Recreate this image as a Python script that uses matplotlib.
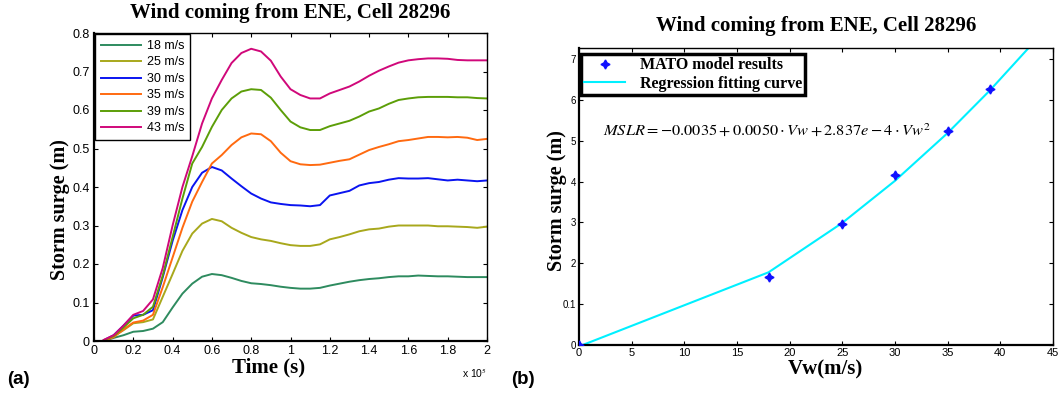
import matplotlib
matplotlib.use("Agg")
import matplotlib.pyplot as plt
import numpy as np

# ---------------- data: panel (a) ----------------
time_x1e5 = [0.05, 0.10, 0.15, 0.20, 0.25, 0.30, 0.35, 0.40, 0.45, 0.50,
             0.55, 0.60, 0.65, 0.70, 0.75, 0.80, 0.85, 0.90, 0.95, 1.00,
             1.05, 1.10, 1.15, 1.20, 1.25, 1.30, 1.35, 1.40, 1.45, 1.50,
             1.55, 1.60, 1.65, 1.70, 1.75, 1.80, 1.85, 1.90, 1.95, 2.00]

surge_18 = [0.000, 0.008, 0.015, 0.024, 0.026, 0.032, 0.049, 0.087, 0.123, 0.149,
            0.167, 0.174, 0.171, 0.164, 0.156, 0.150, 0.148, 0.145, 0.141, 0.138,
            0.136, 0.136, 0.138, 0.144, 0.149, 0.154, 0.158, 0.161, 0.163, 0.166,
            0.168, 0.168, 0.170, 0.169, 0.168, 0.168, 0.167, 0.166, 0.166, 0.166]
surge_25 = [0.000, 0.012, 0.028, 0.046, 0.049, 0.056, 0.115, 0.174, 0.234, 0.279,
            0.305, 0.317, 0.311, 0.294, 0.281, 0.270, 0.264, 0.260, 0.254, 0.249,
            0.247, 0.247, 0.251, 0.264, 0.270, 0.277, 0.285, 0.290, 0.292, 0.297,
            0.300, 0.300, 0.300, 0.300, 0.298, 0.298, 0.297, 0.296, 0.294, 0.297]
surge_30 = [0.002, 0.015, 0.040, 0.066, 0.068, 0.080, 0.166, 0.260, 0.340, 0.400,
            0.437, 0.452, 0.443, 0.422, 0.402, 0.383, 0.370, 0.360, 0.356, 0.353,
            0.352, 0.350, 0.353, 0.378, 0.384, 0.390, 0.404, 0.410, 0.413, 0.419,
            0.423, 0.422, 0.422, 0.423, 0.420, 0.417, 0.419, 0.417, 0.415, 0.417]
surge_35 = [0.000, 0.010, 0.030, 0.048, 0.053, 0.068, 0.140, 0.217, 0.294, 0.362,
            0.413, 0.461, 0.483, 0.509, 0.529, 0.539, 0.537, 0.519, 0.489, 0.467,
            0.459, 0.457, 0.458, 0.463, 0.468, 0.472, 0.484, 0.496, 0.504, 0.511,
            0.519, 0.522, 0.526, 0.530, 0.530, 0.529, 0.530, 0.528, 0.522, 0.525]
surge_39 = [0.002, 0.013, 0.035, 0.059, 0.068, 0.089, 0.170, 0.270, 0.370, 0.461,
            0.504, 0.556, 0.600, 0.630, 0.648, 0.654, 0.652, 0.632, 0.600, 0.570,
            0.555, 0.548, 0.548, 0.558, 0.565, 0.572, 0.583, 0.596, 0.604, 0.616,
            0.626, 0.630, 0.633, 0.634, 0.634, 0.634, 0.633, 0.633, 0.631, 0.630]
surge_43 = [0.003, 0.015, 0.040, 0.068, 0.078, 0.108, 0.190, 0.300, 0.400, 0.480,
            0.565, 0.630, 0.678, 0.722, 0.748, 0.759, 0.752, 0.728, 0.687, 0.654,
            0.639, 0.630, 0.630, 0.643, 0.652, 0.661, 0.674, 0.689, 0.702, 0.713,
            0.723, 0.729, 0.732, 0.734, 0.734, 0.733, 0.730, 0.729, 0.729, 0.729]

series_labels = ["18 m/s", "25 m/s", "30 m/s", "35 m/s", "39 m/s", "43 m/s"]
series_colors = ["#2e8b5f", "#a8a81c", "#0a14f0", "#ff6a10", "#5c9e08", "#d0087a"]

xticks_a = [0, 0.2, 0.4, 0.6, 0.8, 1.0, 1.2, 1.4, 1.6, 1.8, 2.0]
xticklabels_a = ["0", "0.2", "0.4", "0.6", "0.8", "1", "1.2", "1.4", "1.6", "1.8", "2"]
yticks_a = [0, 0.1, 0.2, 0.3, 0.4, 0.5, 0.6, 0.7, 0.8]
yticklabels_a = ["0", "0.1", "0.2", "0.3", "0.4", "0.5", "0.6", "0.7", "0.8"]

# ---------------- data: panel (b) ----------------
wind_speed = [0, 18, 25, 30, 35, 39]
model_surge = [0.000, 0.166, 0.297, 0.415, 0.523, 0.627]
fit_speed = [0, 18, 25, 30, 35, 39, 43, 45]
fit_surge = [-0.0035, 0.178, 0.299, 0.402, 0.519, 0.623, 0.736, 0.796]

xticks_b = [0, 5, 10, 15, 20, 25, 30, 35, 40, 45]
yticks_b = [0, 0.1, 0.2, 0.3, 0.4, 0.5, 0.6, 0.7]
yticklabels_b = ["0", "0.1", "2", "3", "4", "5", "6", "7"]

# ---------------- figure ----------------
plt.rcParams["mathtext.fontset"] = "stix"
W, H = 1058, 394
fig = plt.figure(figsize=(W / 100, H / 100), dpi=100)

serif = "Liberation Serif"
sans = "Liberation Sans"

def px_axes(x0, y0, x1, y1):
    return fig.add_axes([x0 / W, 1 - y1 / H, (x1 - x0) / W, (y1 - y0) / H])

# ---- panel (a)
ax1 = px_axes(94, 33, 487, 341)
all_series = [surge_18, surge_25, surge_30, surge_35, surge_39, surge_43]
for s, lab, col in zip(all_series, series_labels, series_colors):
    ax1.plot(time_x1e5, s, color=col, lw=1.4, label=lab)
ax1.set_xlim(0, 2)
ax1.set_ylim(0, 0.8)
ax1.set_xticks(xticks_a)
ax1.set_xticklabels(xticklabels_a, family=sans, fontsize=9)
ax1.set_yticks(yticks_a)
ax1.set_yticklabels(yticklabels_a, family=sans, fontsize=9)
ax1.tick_params(direction="in", top=True, right=True, length=3, width=0.8, pad=3)
for sp in ax1.spines.values():
    sp.set_linewidth(1.0)
ax1.spines["left"].set_linewidth(1.6)
ax1.spines["bottom"].set_linewidth(1.6)
ax1.set_title("Wind coming from ENE, Cell 28296", family=serif, weight="bold",
              fontsize=15, pad=11)
ax1.set_xlabel("Time (s)", family=serif, weight="bold", fontsize=15)
ax1.xaxis.set_label_coords((269 - 94) / 393, -(357 - 341) / 308)
ax1.set_ylabel("Storm surge (m)", family=serif, weight="bold", fontsize=14.5)
ax1.yaxis.set_label_coords(-(94 - 70) / 393, (341 - 210) / 308)
leg1 = ax1.legend(loc="upper left", bbox_to_anchor=(0.0, 1.0), borderaxespad=0.1,
                  prop={"family": sans, "size": 9}, fancybox=False, framealpha=1,
                  edgecolor="black", handlelength=3.2, handletextpad=0.5,
                  labelspacing=0.36, borderpad=0.45)
leg1.get_frame().set_linewidth(1.0)
fig.text(487 / W, 1 - 373 / H, r"x 10$^{5}$", family=sans, fontsize=7.5,
         ha="right", va="center")
fig.text(7 / W, 1 - 380 / H, "(a)", family=sans, weight="bold", fontsize=13.5,
         ha="left", va="center")

# ---- panel (b)
ax2 = px_axes(579, 48, 1053, 345)
ax2.plot(fit_speed, fit_surge, color="#00f0ff", lw=1.5, label="Regression fitting curve",
         zorder=2)
ax2.plot(wind_speed, model_surge, linestyle="none", marker=(4, 1, 0), markersize=6.5,
         color="#1010ff", label="MATO model results", zorder=3)
ax2.set_xlim(0, 45)
ax2.set_ylim(0, 0.727)
ax2.set_xticks(xticks_b)
ax2.set_xticklabels([str(v) for v in xticks_b], family=sans, fontsize=8)
ax2.set_yticks(yticks_b)
ax2.set_yticklabels(yticklabels_b, family=sans, fontsize=7)
ax2.tick_params(direction="in", top=True, right=True, length=3, width=0.8, pad=2)
for sp in ax2.spines.values():
    sp.set_linewidth(1.0)
ax2.spines["left"].set_linewidth(1.6)
ax2.spines["bottom"].set_linewidth(1.6)
ax2.set_title("Wind coming from ENE, Cell 28296", family=serif, weight="bold",
              fontsize=15, pad=12)
ax2.set_xlabel("Vw(m/s)", family=serif, weight="bold", fontsize=15)
ax2.xaxis.set_label_coords((825 - 579) / 474, -(359 - 345) / 297)
ax2.set_ylabel("Storm surge (m)", family=serif, weight="bold", fontsize=14.5)
ax2.yaxis.set_label_coords(-(579 - 567) / 474, (345 - 201) / 297)
h, l = ax2.get_legend_handles_labels()
leg2 = ax2.legend(h[::-1], l[::-1], loc="upper left", bbox_to_anchor=(0.0, 0.985),
                  borderaxespad=0.1, prop={"family": serif, "weight": "bold", "size": 11.5},
                  fancybox=False, framealpha=1, edgecolor="black", handlelength=2.6,
                  handletextpad=0.9, labelspacing=0.15, borderpad=0.2)
leg2.get_frame().set_linewidth(2.5)
ax2.text((603 - 579) / 474, (345 - 130) / 297,
         r"$MSLR=-0.0035+0.0050\cdot Vw+2.837e-4\cdot Vw^{2}$",
         transform=ax2.transAxes, fontsize=11.8, ha="left", va="center")
fig.text(511 / W, 1 - 380 / H, "(b)", family=sans, weight="bold", fontsize=13.5,
         ha="left", va="center")

fig.savefig("out.png", dpi=100)
